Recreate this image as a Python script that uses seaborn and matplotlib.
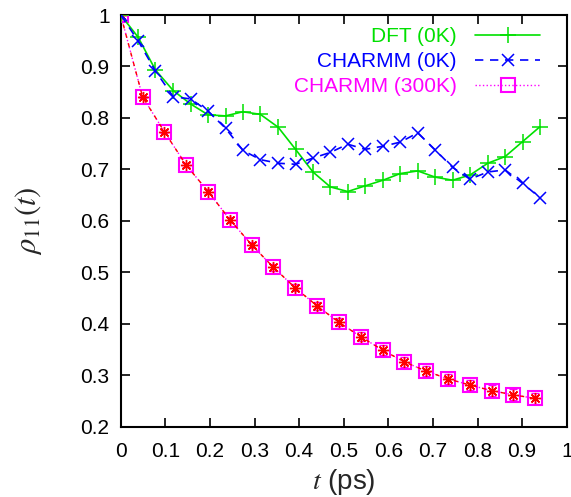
import numpy as np
import seaborn as sns
import matplotlib
matplotlib.use("Agg")
import matplotlib.pyplot as plt

# time axes (ps)
t_0k = [0.000, 0.039, 0.078, 0.118, 0.157, 0.196, 0.235, 0.274, 0.313, 0.353,
        0.392, 0.431, 0.470, 0.509, 0.548, 0.588, 0.627, 0.666, 0.705, 0.744,
        0.783, 0.823, 0.862, 0.901, 0.940]
t_300k = [0.000, 0.049, 0.098, 0.147, 0.196, 0.245, 0.294, 0.342, 0.391, 0.440,
          0.489, 0.538, 0.587, 0.636, 0.685, 0.734, 0.783, 0.832, 0.880, 0.929]

# rho_11(t)
rho_dft = [1.000, 0.957, 0.893, 0.853, 0.827, 0.806, 0.804, 0.812, 0.807, 0.782,
           0.739, 0.695, 0.666, 0.657, 0.668, 0.679, 0.692, 0.697, 0.685, 0.679,
           0.689, 0.712, 0.725, 0.754, 0.783]
rho_charmm0 = [1.000, 0.950, 0.891, 0.841, 0.837, 0.813, 0.780, 0.737, 0.719, 0.712,
               0.710, 0.722, 0.733, 0.749, 0.739, 0.745, 0.753, 0.771, 0.738, 0.704,
               0.681, 0.695, 0.699, 0.673, 0.645]
rho_charmm300 = [1.000, 0.841, 0.773, 0.708, 0.657, 0.602, 0.553, 0.510, 0.470, 0.435,
                 0.403, 0.375, 0.349, 0.326, 0.308, 0.293, 0.281, 0.270, 0.262, 0.255]
err_charmm300 = [0.000, 0.002, 0.003, 0.004, 0.005, 0.006, 0.006, 0.007, 0.007, 0.008,
                 0.008, 0.009, 0.009, 0.009, 0.010, 0.010, 0.010, 0.011, 0.011, 0.011]

sns.set_style("ticks")
plt.rcParams["font.family"] = ["Liberation Sans", "DejaVu Sans"]
plt.rcParams["mathtext.fontset"] = "stix"

fig = plt.figure(figsize=(5.71, 4.97), dpi=100)
ax = fig.add_axes([0.2114, 0.1414, 0.7811, 0.8284])

green = "#00e000"
blue = "#0000ff"
magenta = "#ff00ff"
red = "#ff0000"

# CHARMM 300K with error bars
ax.errorbar(t_300k, rho_charmm300, yerr=err_charmm300, fmt="none", ecolor=magenta,
            elinewidth=1, capsize=3, linestyle=":", zorder=2)
sns.lineplot(x=t_300k, y=rho_charmm300, ax=ax, color=magenta, linestyle=":", lw=1,
             marker="s", markersize=9.5, markerfacecolor="none", markeredgecolor=magenta,
             markeredgewidth=1.5, label="CHARMM (300K)", zorder=3)
# red overlay through the 300K points
sns.lineplot(x=t_300k, y=rho_charmm300, ax=ax, color=red, lw=1, dashes=(3, 4),
             marker=(8, 2, 0), markersize=8, markeredgecolor=red, markeredgewidth=1,
             label="_nolegend_", zorder=4)

sns.lineplot(x=t_0k, y=rho_dft, ax=ax, color=green, lw=1.2, marker="+", markersize=11,
             markeredgewidth=1.1, markeredgecolor=green, label="DFT (0K)", zorder=5)
sns.lineplot(x=t_0k, y=rho_charmm0, ax=ax, color=blue, lw=1.2, dashes=(5, 4), marker="x",
             markersize=9, markeredgewidth=1.1, markeredgecolor=blue, label="CHARMM (0K)",
             zorder=5)

ax.set_xlim(0, 1)
ax.set_ylim(0.2, 1)
ax.set_xticks(np.arange(0, 1.01, 0.1))
ax.set_yticks(np.arange(0.2, 1.01, 0.1))
ax.set_xticklabels(["0", "0.1", "0.2", "0.3", "0.4", "0.5", "0.6", "0.7", "0.8", "0.9", "1"])
ax.set_yticklabels(["0.2", "0.3", "0.4", "0.5", "0.6", "0.7", "0.8", "0.9", "1"])
ax.tick_params(direction="in", length=6.5, width=1.2, labelsize=15, top=True, right=True,
               colors="black")
ax.tick_params(axis="x", pad=11)
ax.tick_params(axis="y", pad=8)
for s in ax.spines.values():
    s.set_linewidth(1.5)
    s.set_color("black")

ax.set_xlabel(r"$t$ (ps)", fontsize=20, labelpad=4)
ax.set_ylabel(r"$\rho_{11}(t)$", fontsize=22, labelpad=26)

handles, labels = ax.get_legend_handles_labels()
order = [labels.index(l) for l in ["DFT (0K)", "CHARMM (0K)", "CHARMM (300K)"]]
leg = ax.legend([handles[i] for i in order], [labels[i] for i in order],
                loc="upper right", bbox_to_anchor=(0.94, 0.97), frameon=False,
                markerfirst=False, fontsize=15, handlelength=3.1, handletextpad=0.9,
                labelspacing=0.28, borderpad=0, borderaxespad=0)
for txt, col in zip(leg.get_texts(), [green, blue, magenta]):
    txt.set_color(col)

fig.savefig("out.png", dpi=100)
